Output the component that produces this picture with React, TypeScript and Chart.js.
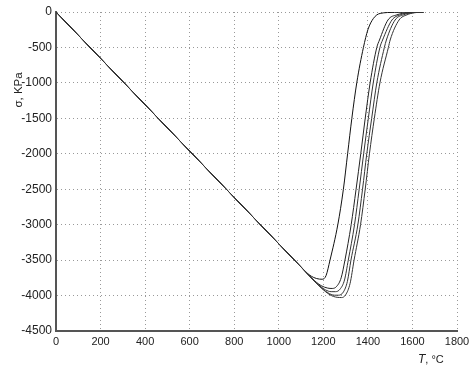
import React, { useEffect, useRef } from "react";
import { Chart, registerables } from "chart.js";

Chart.register(...registerables);

// Temperature (°C) / stress (KPa) pairs for the five curves
const curveA_T = [0, 500, 1000, 1100, 1140, 1170, 1195, 1212, 1230, 1265, 1290, 1309, 1328, 1350, 1380, 1400, 1425, 1455, 1520, 1650];
const curveA_S = [0, -1635, -3270, -3597, -3715, -3760, -3770, -3720, -3500, -3000, -2500, -2000, -1500, -1000, -500, -250, -90, -20, -5, 0];

const curveB_T = [0, 500, 1000, 1100, 1150, 1190, 1220, 1240, 1260, 1280, 1297, 1325, 1347, 1368, 1388, 1410, 1440, 1452, 1490, 1530, 1580, 1650];
const curveB_S = [0, -1635, -3270, -3597, -3760, -3860, -3895, -3900, -3870, -3750, -3500, -3000, -2500, -2000, -1500, -1000, -500, -395, -113, -40, -10, 0];

const curveC_T = [0, 500, 1000, 1100, 1170, 1210, 1235, 1255, 1275, 1295, 1312, 1340, 1361, 1381, 1402, 1424, 1454, 1466, 1508, 1545, 1590, 1650];
const curveC_S = [0, -1635, -3270, -3597, -3826, -3920, -3945, -3945, -3910, -3780, -3500, -3000, -2500, -2000, -1500, -1000, -500, -395, -113, -40, -10, 0];

const curveD_T = [0, 500, 1000, 1100, 1180, 1220, 1250, 1268, 1290, 1308, 1324, 1355, 1376, 1395, 1417, 1440, 1474, 1483, 1522, 1560, 1600, 1650];
const curveD_S = [0, -1635, -3270, -3597, -3859, -3960, -3995, -3995, -3950, -3800, -3500, -3000, -2500, -2000, -1500, -1000, -500, -395, -113, -40, -10, 0];

const curveE_T = [0, 500, 1000, 1100, 1190, 1230, 1262, 1282, 1300, 1320, 1338, 1367, 1388, 1407, 1429, 1454, 1492, 1500, 1540, 1575, 1610, 1650];
const curveE_S = [0, -1635, -3270, -3597, -3890, -3990, -4025, -4028, -3990, -3830, -3500, -3000, -2500, -2000, -1500, -1000, -500, -395, -113, -40, -10, 0];

const xTicks = [0, 200, 400, 600, 800, 1000, 1200, 1400, 1600, 1800];
const yTicks = [0, -500, -1000, -1500, -2000, -2500, -3000, -3500, -4000, -4500];

const yTitle = "σ, KPa";
const xTitleItalic = "T";
const xTitleRest = ", °C";

const toPoints = (xs: number[], ys: number[]) => xs.map((x, i) => ({ x, y: ys[i] }));

export default function App() {
  const ref = useRef<HTMLCanvasElement | null>(null);

  useEffect(() => {
    if (!ref.current) return;
    const titlesPlugin = {
      id: "titles",
      afterDraw(chart: any) {
        const { ctx, chartArea } = chart;
        ctx.save();
        ctx.fillStyle = "#222";
        ctx.font = "11.5px 'Liberation Sans', Arial, sans-serif";
        ctx.translate(chartArea.left - 37, chartArea.top + 78);
        ctx.rotate(-Math.PI / 2);
        ctx.textAlign = "center";
        ctx.textBaseline = "middle";
        ctx.fillText(yTitle, 0, 0);
        ctx.restore();
        ctx.save();
        ctx.fillStyle = "#222";
        ctx.textBaseline = "middle";
        ctx.textAlign = "left";
        const y = chartArea.bottom + 29;
        let x = chartArea.right - 39;
        ctx.font = "italic 12px 'Liberation Sans', Arial, sans-serif";
        ctx.fillText(xTitleItalic, x, y);
        x += ctx.measureText(xTitleItalic).width;
        ctx.font = "11px 'Liberation Sans', Arial, sans-serif";
        ctx.fillText(xTitleRest, x, y);
        ctx.restore();
      },
    };

    const mk = (xs: number[], ys: number[], color: string) => ({
      data: toPoints(xs, ys),
      borderColor: color,
      borderWidth: 1,
      pointRadius: 0,
      fill: false,
      cubicInterpolationMode: "monotone" as const,
    });

    const chart = new Chart(ref.current, {
      type: "line",
      data: {
        datasets: [
          mk(curveE_T, curveE_S, "#333"),
          mk(curveD_T, curveD_S, "#333"),
          mk(curveC_T, curveC_S, "#333"),
          mk(curveB_T, curveB_S, "#222"),
          mk(curveA_T, curveA_S, "#111"),
        ],
      },
      options: {
        animation: false,
        responsive: true,
        maintainAspectRatio: false,
        layout: { padding: { left: 0, right: 19, top: 12, bottom: 0 } },
        plugins: { legend: { display: false }, tooltip: { enabled: false } },
        scales: {
          x: {
            type: "linear",
            min: 0,
            max: 1800,
            afterBuildTicks: (s: any) => {
              s.ticks = xTicks.map((v) => ({ value: v }));
            },
            afterFit: (s: any) => {
              s.height = 38;
            },
            ticks: {
              color: "#222",
              font: { family: "'Liberation Sans', Arial, sans-serif", size: 11 },
              padding: 4,
              maxRotation: 0,
              autoSkip: false,
              callback: (v: any) => String(v),
            },
            grid: { color: "#999", lineWidth: 1, drawTicks: false, tickLength: 0 },
            border: { color: "#555", width: 2, dash: [1, 3] as any },
          },
          y: {
            type: "linear",
            min: -4500,
            max: 0,
            afterBuildTicks: (s: any) => {
              s.ticks = yTicks.map((v) => ({ value: v }));
            },
            afterFit: (s: any) => {
              s.width = 56;
            },
            ticks: {
              color: "#222",
              font: { family: "'Liberation Sans', Arial, sans-serif", size: 12 },
              padding: 4,
              autoSkip: false,
              callback: (v: any) => String(v),
            },
            grid: { color: "#999", lineWidth: 1, drawTicks: false, tickLength: 0 },
            border: { color: "#555", width: 2, dash: [1, 3] as any },
          },
        },
      },
      plugins: [titlesPlugin],
    });
    return () => chart.destroy();
  }, []);

  return (
    <div style={{ position: "fixed", left: 0, top: 0, width: 476, height: 369, background: "#fff" }}>
      <canvas ref={ref} />
    </div>
  );
}
